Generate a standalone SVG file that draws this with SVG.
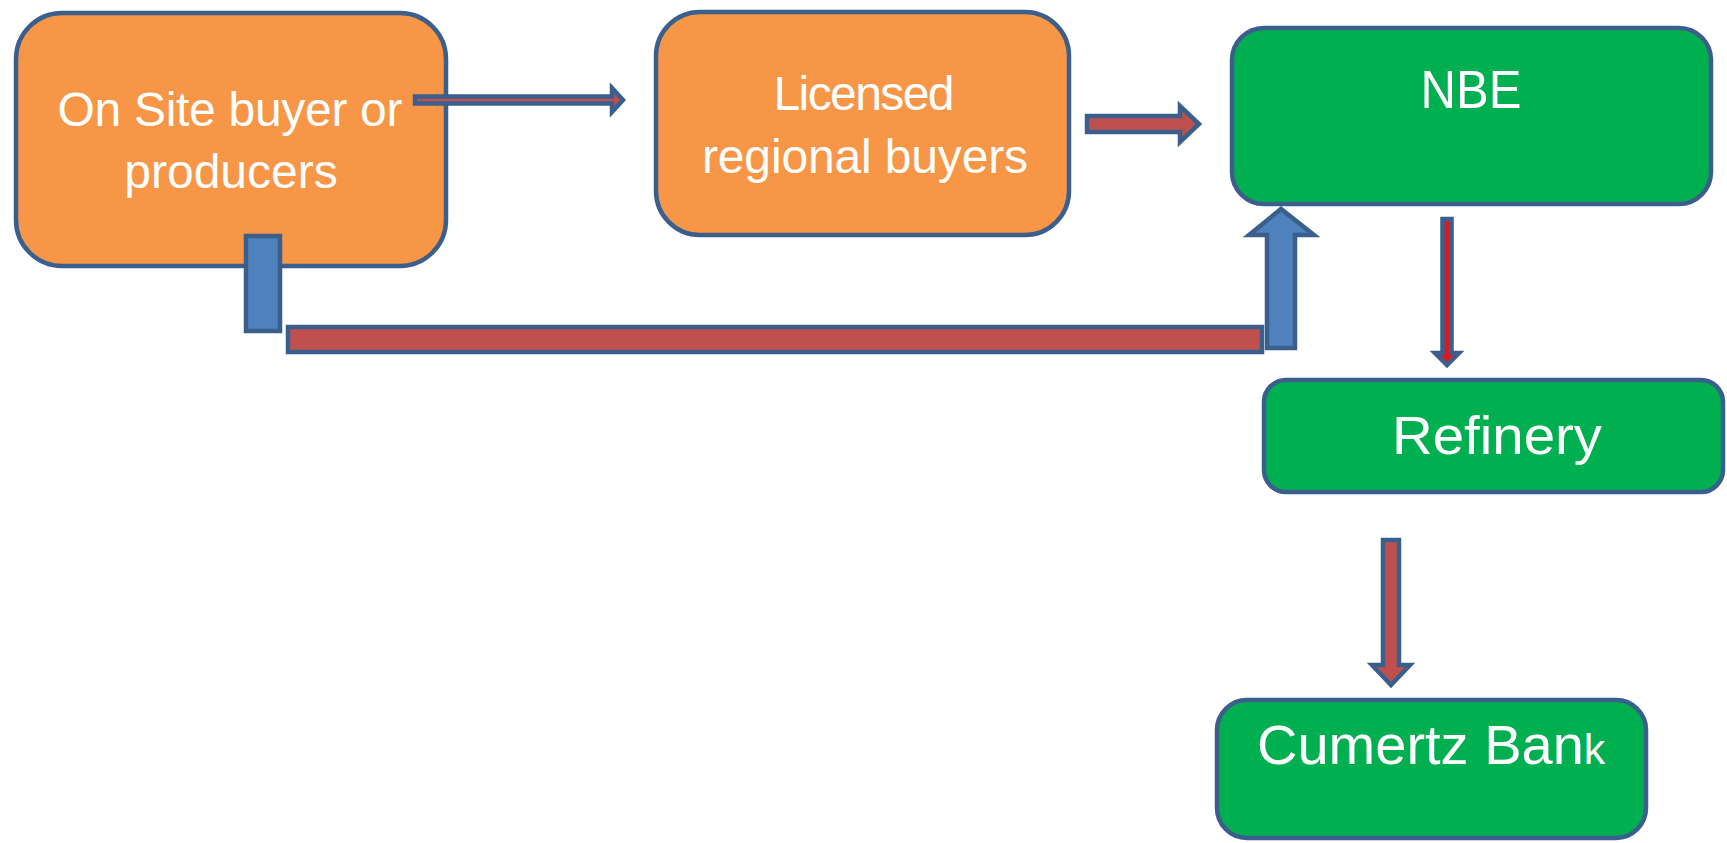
<svg xmlns="http://www.w3.org/2000/svg" width="1727" height="843" viewBox="0 0 1727 843">
<style>
.box{stroke:#3B5F8D;stroke-width:4.5}
.org{fill:#F79646}
.grn{fill:#00B050}
.lbl{font-family:"Liberation Sans",Arial,sans-serif;fill:#FFFFFF}
.con{stroke:#3B5F8D;stroke-width:4.5;stroke-linejoin:miter}
.red{fill:#C0504D}
.blu{fill:#4F81BD}
.brt{fill:#E3161B}
</style>
<rect width="1727" height="843" fill="#FFFFFF"/>
<g id="node-onsite">
<rect class="box org" x="16" y="13" width="430" height="253" rx="46"/>
<text class="lbl" font-size="48" text-anchor="middle"><tspan x="230" y="126" textLength="345">On Site buyer or</tspan><tspan x="231" y="188">producers</tspan></text>
</g>
<g id="node-licensed">
<rect class="box org" x="656" y="12" width="413" height="223" rx="44"/>
<text class="lbl" font-size="48" text-anchor="middle"><tspan x="864" y="110" textLength="181">Licensed</tspan><tspan x="865" y="173" textLength="326">regional buyers</tspan></text>
</g>
<g id="node-nbe">
<rect class="box grn" x="1232" y="28" width="479" height="176" rx="32"/>
<text class="lbl" font-size="54" text-anchor="middle" x="1471" y="108" textLength="101" lengthAdjust="spacingAndGlyphs">NBE</text>
</g>
<g id="node-refinery">
<rect class="box grn" x="1264" y="380" width="459" height="112" rx="22"/>
<text class="lbl" font-size="53" text-anchor="middle" x="1497" y="454" textLength="210" lengthAdjust="spacingAndGlyphs">Refinery</text>
</g>
<g id="node-cumertz">
<rect class="box grn" x="1217" y="700" width="429" height="138" rx="30"/>
<text class="lbl" font-size="56" x="1257" y="764">Cumertz Ban<tspan font-size="43">k</tspan></text>
</g>
<g id="connectors">
<polygon class="con red" points="415,96.5 612,96.5 612,88 623,100 612,112 612,103.5 415,103.5"/>
<polygon class="con red" points="1087,116 1180,116 1180,106 1199,124 1180,142 1180,132 1087,132"/>
<rect class="con red" x="288" y="327" width="974" height="25"/>
<rect class="con blu" x="246" y="236" width="34" height="95"/>
<polygon class="con blu" points="1267,348 1267,235 1249,235 1281,209 1314,235 1295,235 1295,348"/>
<polygon class="con brt" points="1442.5,219 1451.5,219 1451.5,353 1459,353 1447,365 1435,353 1442.5,353"/>
<polygon class="con red" points="1383,540 1399,540 1399,665 1410,665 1391,685 1372,665 1383,665"/>
</g>
</svg>
